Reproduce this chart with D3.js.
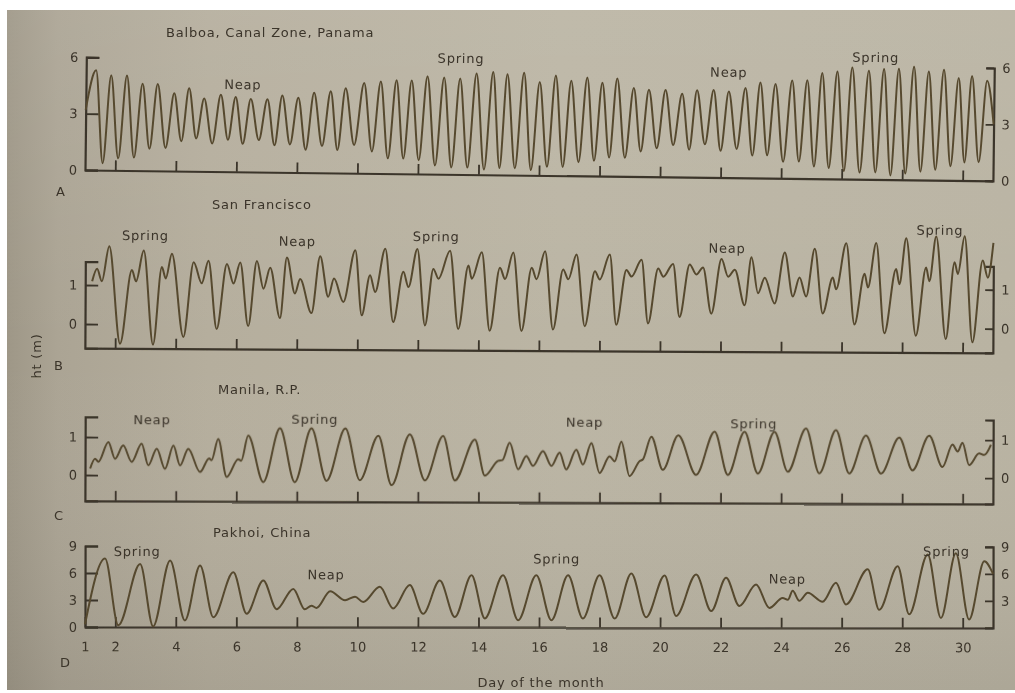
<!DOCTYPE html>
<html>
<head>
<meta charset="utf-8">
<script src="https://cdn.jsdelivr.net/npm/d3@7"></script>
<style>
  body { margin: 0; background: #fff; }
  text { font-family: "DejaVu Sans", "Liberation Sans", Arial, sans-serif; }
</style>
</head>
<body>
<div id="container"></div>
<script>

// tide curves as [day of month, height] at each high / low water
const balboaTide = [[1.0,3.2],[1.33,5.31],[1.58,0.37],[1.83,5.05],[2.09,0.64],[2.35,5.05],[2.61,0.69],[2.87,4.62],[3.12,1.17],[3.37,4.62],[3.65,1.22],[3.92,4.14],[4.17,1.59],[4.41,4.41],[4.66,1.75],[4.91,3.88],[5.19,1.49],[5.46,4.09],[5.71,1.70],[5.95,3.98],[6.20,1.49],[6.45,3.88],[6.73,1.70],[7.00,3.88],[7.25,1.43],[7.49,4.09],[7.76,1.49],[8.02,3.98],[8.28,1.22],[8.54,4.25],[8.82,1.43],[9.09,4.35],[9.33,1.22],[9.58,4.51],[9.88,1.5],[10.19,4.80],[10.47,1.17],[10.74,4.89],[11.00,0.81],[11.26,4.97],[11.51,0.81],[11.76,4.97],[12.02,0.73],[12.28,5.20],[12.56,0.46],[12.83,5.15],[13.10,0.37],[13.36,5.10],[13.63,0.37],[13.90,5.38],[14.18,0.28],[14.45,5.47],[14.69,0.37],[14.92,5.36],[15.20,0.37],[15.47,5.45],[15.73,0.28],[15.99,4.97],[16.26,0.46],[16.52,5.33],[16.78,0.46],[17.03,5.06],[17.30,0.73],[17.56,5.24],[17.81,0.81],[18.06,4.97],[18.31,0.99],[18.55,5.20],[18.83,0.99],[19.10,4.71],[19.35,1.34],[19.60,4.62],[19.88,1.52],[20.15,4.62],[20.42,1.70],[20.70,4.43],[20.95,1.46],[21.19,4.63],[21.47,1.76],[21.74,4.65],[21.99,1.42],[22.24,4.58],[22.52,1.53],[22.79,4.78],[23.04,1.19],[23.28,5.08],[23.53,1.22],[23.78,5.01],[24.06,0.88],[24.33,5.21],[24.58,0.90],[24.83,5.23],[25.08,0.65],[25.32,5.62],[25.57,0.58],[25.82,5.72],[26.07,0.42],[26.31,5.93],[26.59,0.35],[26.86,5.77],[27.11,0.37],[27.36,5.88],[27.61,0.22],[27.85,5.90],[28.10,0.33],[28.35,6.02],[28.60,0.44],[28.84,5.77],[29.09,0.55],[29.34,5.88],[29.59,0.75],[29.83,5.45],[30.05,0.96],[30.27,5.56],[30.52,0.98],[30.77,5.31],[31.0,3.0]];

const sanFranciscoTide = [[1.23,1.10],[1.39,1.42],[1.55,1.10],[1.79,2.00],[2.16,-0.50],[2.54,1.39],[2.68,1.10],[2.93,1.89],[3.25,-0.52],[3.53,1.47],[3.66,1.18],[3.86,1.81],[4.25,-0.32],[4.58,1.60],[4.85,1.06],[5.07,1.64],[5.35,-0.11],[5.68,1.56],[5.90,1.06],[6.12,1.60],[6.39,-0.03],[6.67,1.64],[6.89,0.93],[7.11,1.47],[7.44,0.18],[7.66,1.73],[7.93,0.81],[8.10,1.18],[8.48,0.31],[8.76,1.77],[9.03,0.73],[9.22,1.20],[9.53,0.60],[9.92,1.93],[10.14,0.26],[10.41,1.29],[10.58,0.86],[10.91,1.97],[11.18,0.09],[11.51,1.38],[11.68,0.99],[11.97,1.97],[12.23,0.01],[12.50,1.46],[12.67,1.21],[13.05,1.93],[13.33,-0.08],[13.66,1.55],[13.77,1.21],[14.10,1.89],[14.37,-0.12],[14.70,1.50],[14.87,1.21],[15.14,1.89],[15.42,-0.12],[15.75,1.50],[15.91,1.21],[16.19,1.93],[16.46,-0.08],[16.79,1.46],[16.96,1.21],[17.23,1.85],[17.51,0.01],[17.84,1.42],[18.00,1.21],[18.33,1.85],[18.55,0.05],[18.88,1.46],[19.05,1.29],[19.38,1.72],[19.60,0.09],[19.93,1.50],[20.10,1.29],[20.42,1.62],[20.64,0.26],[20.97,1.61],[21.19,1.35],[21.41,1.53],[21.69,0.35],[22.02,1.75],[22.24,1.30],[22.46,1.48],[22.79,0.57],[23.01,1.80],[23.23,0.88],[23.45,1.28],[23.78,0.62],[24.11,1.93],[24.38,0.80],[24.60,1.29],[24.82,0.80],[25.10,2.03],[25.37,0.37],[25.70,1.29],[25.81,0.99],[26.14,2.17],[26.42,0.09],[26.75,1.39],[26.86,1.04],[27.13,2.18],[27.41,-0.13],[27.79,1.52],[27.90,1.13],[28.12,2.31],[28.45,-0.19],[28.78,1.56],[28.89,1.21],[29.11,2.36],[29.44,-0.27],[29.72,1.70],[29.83,1.40],[30.05,2.37],[30.32,-0.35],[30.65,1.75],[30.82,1.31],[31.0,2.2]];

const manilaTide = [[1.17,0.17],[1.33,0.43],[1.44,0.35],[1.77,0.87],[1.99,0.43],[2.26,0.78],[2.54,0.35],[2.87,0.83],[3.09,0.26],[3.37,0.70],[3.64,0.17],[3.92,0.78],[4.14,0.26],[4.41,0.70],[4.80,0.09],[5.10,0.45],[5.18,0.40],[5.40,0.96],[5.68,-0.04],[6.06,0.43],[6.16,0.39],[6.39,1.05],[6.89,-0.17],[7.44,1.25],[7.93,-0.17],[8.48,1.25],[8.98,-0.13],[9.60,1.25],[10.08,-0.11],[10.69,1.06],[11.13,-0.24],[11.73,1.10],[12.23,-0.11],[12.83,1.06],[13.22,-0.11],[13.88,0.97],[14.21,0.02],[14.65,0.41],[14.79,0.43],[15.03,0.89],[15.31,0.19],[15.58,0.54],[15.80,0.28],[16.13,0.67],[16.41,0.28],[16.68,0.63],[16.90,0.19],[17.23,0.71],[17.45,0.32],[17.73,0.89],[18.00,0.10],[18.33,0.54],[18.50,0.41],[18.72,0.93],[18.99,0.02],[19.33,0.42],[19.43,0.46],[19.71,1.06],[20.09,0.19],[20.60,1.10],[21.19,0.06],[21.80,1.20],[22.24,0.06],[22.79,1.20],[23.23,0.10],[23.78,1.20],[24.22,0.15],[24.82,1.29],[25.26,0.11],[25.81,1.25],[26.25,0.11],[26.80,1.11],[27.30,0.11],[27.90,1.06],[28.34,0.20],[28.89,1.11],[29.33,0.29],[29.66,0.88],[29.83,0.70],[29.99,0.93],[30.21,0.34],[30.54,0.65],[30.71,0.61],[30.93,0.88]];

const pakhoiTide = [[1.0,0.3],[1.66,7.6],[2.10,0.2],[2.82,7.0],[3.25,0.07],[3.81,7.4],[4.30,0.74],[4.80,6.85],[5.24,1.1],[5.90,6.1],[6.34,1.5],[6.89,5.2],[7.33,2.0],[7.88,4.26],[8.26,2.0],[8.48,2.4],[8.65,2.15],[9.1,4.0],[9.59,3.0],[9.92,3.4],[10.19,2.8],[10.74,4.5],[11.18,2.1],[11.73,4.7],[12.17,1.5],[12.72,5.2],[13.22,1.15],[13.77,5.8],[14.21,1.0],[14.81,5.8],[15.31,0.8],[15.91,5.8],[16.41,0.8],[16.96,5.8],[17.45,1.0],[18.00,5.8],[18.50,1.0],[19.05,6.0],[19.54,1.15],[20.15,5.8],[20.53,1.3],[21.19,5.9],[21.69,1.85],[22.18,5.55],[22.62,2.4],[23.17,4.8],[23.61,2.2],[24.05,3.3],[24.22,3.1],[24.38,4.1],[24.60,3.0],[24.88,3.9],[25.37,2.9],[25.81,5.0],[26.14,2.6],[26.86,6.5],[27.24,2.0],[27.85,6.85],[28.23,1.5],[28.84,8.15],[29.28,1.1],[29.77,8.3],[30.21,0.93],[30.71,7.4],[31.0,6.0]];

const stations = ["Balboa, Canal Zone, Panama", "San Francisco", "Manila, R.P.", "Pakhoi, China"];
const panelLetters = ["A", "B", "C", "D"];
const heightExtent = [[0, 6], [-0.62, 1.6], [-0.68, 1.53], [0, 9]];
const leftTicks = [[0, 3, 6], [0, 1], [0, 1], [0, 3, 6, 9]];
const rightTicks = [[0, 3, 6], [0, 1], [0, 1], [3, 6, 9]];
// spring / neap notes: [text, day, height of text baseline]
const phaseNotes = [
  [["Neap", 6.18, 4.4], ["Spring", 13.38, 5.93], ["Neap", 22.23, 5.36], ["Spring", 27.08, 6.24]],
  [["Spring", 2.98, 2.16], ["Neap", 8.0, 2.03], ["Spring", 12.59, 2.17], ["Neap", 22.2, 1.91], ["Spring", 29.23, 2.4]],
  [["Neap", 3.21, 1.34], ["Spring", 8.59, 1.36], ["Neap", 17.5, 1.31], ["Spring", 23.09, 1.29]],
  [["Spring", 2.72, 7.9], ["Neap", 8.96, 5.33], ["Spring", 16.58, 7.1], ["Neap", 24.2, 4.9], ["Spring", 29.46, 8.0]]
];
const tides = [balboaTide, sanFranciscoTide, manilaTide, pakhoiTide];
const dayTicks = [2, 4, 6, 8, 10, 12, 14, 16, 18, 20, 22, 24, 26, 28, 30];
const dayLabels = [1, 2, 4, 6, 8, 10, 12, 14, 16, 18, 20, 22, 24, 26, 28, 30];

// pixel layout of each panel (zero line, px per unit, photo tilt)
const layout = [
  { zero: 170, unit: 18.8, tilt: 0.68, title: [166, 37], letter: [56, 196] },
  { zero: 324, unit: 39,   tilt: 0.3,  title: [212, 209], letter: [54, 370] },
  { zero: 475, unit: 38,   tilt: 0.2,  title: [218, 394], letter: [54, 520] },
  { zero: 627, unit: 9,    tilt: 0.06, title: [213, 537], letter: [60, 667] }
];

const width = 1015, height = 693;
const ink = "#3b342a", curveInk = "#56492f";
const fontSize = "13px", spacing = "0.8px";

const svg = d3.create("svg").attr("width", width).attr("height", height);

const defs = svg.append("defs");
const grad = defs.append("linearGradient").attr("id", "paper");
[[0, "#9e9787"], [0.05, "#aba494"], [0.2, "#b5ae9d"], [0.55, "#bbb5a4"], [1, "#b9b3a2"]]
  .forEach(s => grad.append("stop").attr("offset", s[0]).attr("stop-color", s[1]));
const vgrad = defs.append("linearGradient").attr("id", "shade").attr("x2", 0).attr("y2", 1);
[[0, "#ffffff", 0.07], [0.5, "#ffffff", 0], [1, "#000000", 0.07]]
  .forEach(s => vgrad.append("stop").attr("offset", s[0]).attr("stop-color", s[1]).attr("stop-opacity", s[2]));
defs.append("filter").attr("id", "soft")
  .append("feGaussianBlur").attr("stdDeviation", 0.45);

svg.append("rect").attr("x", 7).attr("y", 10).attr("width", width - 7).attr("height", 680).attr("fill", "url(#paper)");
svg.append("rect").attr("x", 7).attr("y", 10).attr("width", width - 7).attr("height", 680).attr("fill", "url(#shade)");

const chart = svg.append("g").attr("filter", "url(#soft)");

const x = d3.scaleLinear().domain([1, 31]).range([85, 993]);

tides.forEach((tide, i) => {
  const L = layout[i];
  const ext = heightExtent[i];
  const y = d3.scaleLinear().domain(ext).range([L.zero - ext[0] * L.unit, L.zero - ext[1] * L.unit]);
  const g = chart.append("g").attr("transform", `rotate(${L.tilt},85,${L.zero})`);
  const yBase = y(ext[0]);

  // left axis with inward ticks
  const la = g.append("g").attr("transform", "translate(85,0)")
    .call(d3.axisLeft(y).tickValues(leftTicks[i]).tickFormat(d3.format("d"))
      .tickSize(-13).tickSizeOuter(-13).tickPadding(8));
  // right axis
  const ra = g.append("g").attr("transform", "translate(993,0)")
    .call(d3.axisRight(y).tickValues(rightTicks[i]).tickFormat(d3.format("d"))
      .tickSize(-8).tickSizeOuter(-8).tickPadding(8));
  // day axis, ticks pointing up
  const ba = g.append("g").attr("transform", `translate(0,${yBase})`)
    .call(d3.axisBottom(x).tickValues(i === 3 ? dayLabels : dayTicks).tickFormat(d3.format("d"))
      .tickSize(-10).tickSizeOuter(0).tickPadding(15));
  if (i !== 3) ba.selectAll("text").remove();

  [la, ra, ba].forEach(a => {
    a.attr("font-family", null).attr("font-size", null);
    a.select(".domain").attr("stroke", ink).attr("stroke-width", 2.2);
    a.selectAll(".tick line").attr("stroke", ink).attr("stroke-width", 1.8);
    a.selectAll("text").attr("fill", ink).style("font-size", fontSize);
  });

  const line = d3.line().x(d => x(d[0])).y(d => y(d[1])).curve(d3.curveMonotoneX);
  g.append("path").datum(tide).attr("d", line)
    .attr("fill", "none").attr("stroke", curveInk).attr("stroke-width", 2).attr("stroke-linejoin", "round");

  g.selectAll("text.note").data(phaseNotes[i]).enter().append("text")
    .attr("class", "note")
    .attr("x", d => x(d[1])).attr("y", d => y(d[2]))
    .attr("text-anchor", "middle").attr("fill", ink)
    .style("font-size", fontSize).style("letter-spacing", spacing)
    .text(d => d[0]);

  chart.append("text").attr("x", L.title[0]).attr("y", L.title[1])
    .attr("fill", ink).style("font-size", fontSize).style("letter-spacing", spacing)
    .text(stations[i]);
  chart.append("text").attr("x", L.letter[0]).attr("y", L.letter[1])
    .attr("fill", ink).style("font-size", fontSize)
    .text(panelLetters[i]);
});

chart.append("text").attr("transform", "translate(41,356) rotate(-90)")
  .attr("text-anchor", "middle").attr("fill", ink)
  .style("font-size", fontSize).style("letter-spacing", spacing)
  .text("ht (m)");
chart.append("text").attr("x", 541).attr("y", 687)
  .attr("text-anchor", "middle").attr("fill", ink)
  .style("font-size", fontSize).style("letter-spacing", spacing)
  .text("Day of the month");

container.append(svg.node());
</script>
</body>
</html>
